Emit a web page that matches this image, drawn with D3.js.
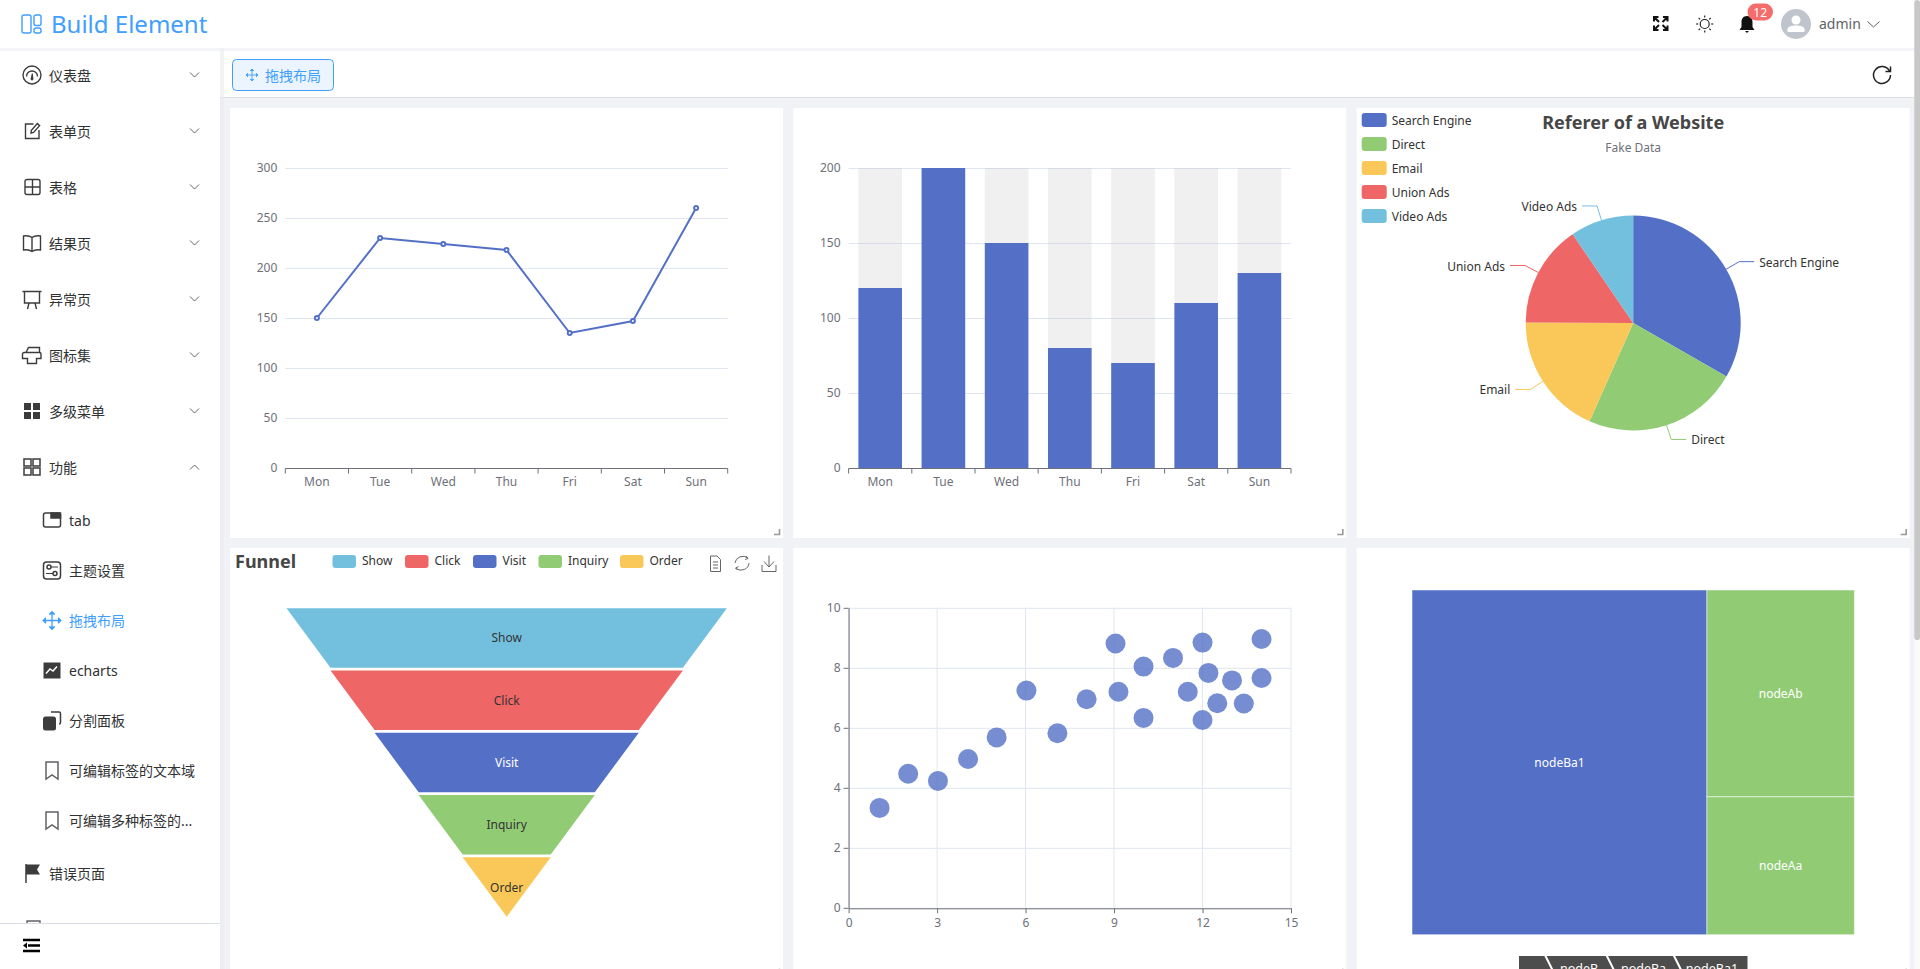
<!DOCTYPE html>
<html>
<head>
<meta charset="utf-8">
<title>Build Element</title>
<script src="https://cdn.jsdelivr.net/npm/d3@7"></script>
<style>
  html, body { margin: 0; height: 100%; overflow: hidden; background: #f0f2f5; }
  svg { display: block; }
  text { font-family: "Noto Sans", "Noto Sans CJK SC", sans-serif; }
</style>
</head>
<body>
<div id="app"></div>
<script>
// chart data
const days = ["Mon", "Tue", "Wed", "Thu", "Fri", "Sat", "Sun"];
const lineValues = [150, 230, 224, 218, 135, 147, 260];
const lineTicks = [0, 50, 100, 150, 200, 250, 300];
const barValues = [120, 200, 150, 80, 70, 110, 130];
const barTicks = [0, 50, 100, 150, 200];
const pieNames = ["Search Engine", "Direct", "Email", "Union Ads", "Video Ads"];
const pieValues = [1048, 735, 580, 484, 300];
const funnelNames = ["Show", "Click", "Visit", "Inquiry", "Order"];
const funnelValues = [100, 80, 60, 40, 20];
const scatterX = [10, 8.07, 13, 9.05, 11, 14, 13.4, 10, 14, 12.5, 9.15, 11.5, 3.03, 12.2, 2.02, 1.05, 4.05, 6.03, 12, 12, 7.08, 5.02];
const scatterY = [8.04, 6.95, 7.58, 8.81, 8.33, 7.66, 6.81, 6.33, 8.96, 6.82, 7.2, 7.2, 4.23, 7.83, 4.47, 3.33, 4.96, 7.24, 6.26, 8.84, 5.82, 5.68];
const scatterTicksX = [0, 3, 6, 9, 12, 15];
const scatterTicksY = [0, 2, 4, 6, 8, 10];
const treeNodeA = ["nodeAa", "nodeAb"];
const treeNodeAValues = [4, 6];
const treeNodeBa1Value = 20;
const breadcrumbNames = ["nodeB", "nodeBa", "nodeBa1"];

// page text
const menuTop = ["仪表盘", "表单页", "表格", "结果页", "异常页", "图标集", "多级菜单", "功能"];
const menuSub = ["tab", "主题设置", "拖拽布局", "echarts", "分割面板", "可编辑标签的文本域", "可编辑多种标签的..."];

const colors = { blue: "#5470c6", green: "#91cc75", yellow: "#fac858", red: "#ee6666", cyan: "#73c0de" };
const pieColors = [colors.blue, colors.green, colors.yellow, colors.red, colors.cyan];
const funnelColors = [colors.cyan, colors.red, colors.blue, colors.green, colors.yellow];
const axisColor = "#6e7079";
const splitColor = "#e0e6f1";
const primary = "#409eff";
const dark = "#303133";

const svg = d3.select("#app").append("svg").attr("width", 1920).attr("height", 969);

// small text helper, everything is centred on y
function label(g, x, y, str, size, fill, anchor, weight) {
    return g.append("text")
        .attr("x", x).attr("y", y)
        .attr("dominant-baseline", "central")
        .attr("text-anchor", anchor || "start")
        .attr("font-size", size)
        .attr("font-weight", weight || 400)
        .attr("fill", fill)
        .text(str);
}

// cards
const cardW = 553, cardH = 430;
const cardX = [230, 793.3, 1356.7];
const cardY = [108, 547.8];
cardY.forEach(y => cardX.forEach(x => {
    svg.append("rect").attr("x", x).attr("y", y).attr("width", cardW).attr("height", cardH).attr("fill", "#fff");
    svg.append("path")
        .attr("d", `M${x + cardW - 9} ${y + cardH - 3.5}H${x + cardW - 3.5}V${y + cardH - 9}`)
        .attr("fill", "none").attr("stroke", "#999").attr("stroke-width", 1.6);
}));

function gridOf(i, j) {
    const x = cardX[i], y = cardY[j];
    return { left: x + 55.3, right: x + cardW - 55.3, top: y + 60, bottom: y + 360 };
}

function styleAxis(g) {
    g.selectAll("text").attr("fill", axisColor).attr("font-size", 12);
    g.selectAll("line").attr("stroke", axisColor);
    g.select(".domain").attr("stroke", axisColor);
}

function yGrid(g, y, ticks, left, right) {
    g.selectAll(null).data(ticks).enter().append("line")
        .attr("x1", left).attr("x2", right)
        .attr("y1", d => y(d) + 0.5).attr("y2", d => y(d) + 0.5)
        .attr("stroke", splitColor);
    const axis = g.append("g").attr("transform", `translate(${left},0)`)
        .call(d3.axisLeft(y).tickValues(ticks).tickSize(0).tickPadding(8));
    axis.select(".domain").remove();
    styleAxis(axis);
}

function categoryAxis(g, x, grid) {
    const axis = g.append("g").attr("transform", `translate(0,${grid.bottom + 0.5})`)
        .call(d3.axisBottom(x).tickSize(0).tickPadding(9));
    axis.select(".domain").remove();
    axis.append("line").attr("x1", grid.left).attr("x2", grid.right);
    axis.selectAll(null).data(d3.range(days.length + 1)).enter().append("line")
        .attr("x1", i => grid.left + i * x.step()).attr("x2", i => grid.left + i * x.step())
        .attr("y1", 0).attr("y2", 5);
    styleAxis(axis);
}

// line chart
{
    const grid = gridOf(0, 0);
    const g = svg.append("g");
    const x = d3.scaleBand().domain(days).range([grid.left, grid.right]);
    const y = d3.scaleLinear().domain([0, 300]).range([grid.bottom, grid.top]);
    yGrid(g, y, lineTicks, grid.left, grid.right);
    categoryAxis(g, x, grid);
    const cx = (d, i) => x(days[i]) + x.bandwidth() / 2;
    g.append("path").datum(lineValues)
        .attr("d", d3.line().x(cx).y(d => y(d)))
        .attr("fill", "none").attr("stroke", colors.blue).attr("stroke-width", 2);
    g.selectAll("circle").data(lineValues).enter().append("circle")
        .attr("cx", cx).attr("cy", d => y(d)).attr("r", 2)
        .attr("fill", "#fff").attr("stroke", colors.blue).attr("stroke-width", 2);
}

// bar chart with background bars
{
    const grid = gridOf(1, 0);
    const g = svg.append("g");
    const x = d3.scaleBand().domain(days).range([grid.left, grid.right]).paddingInner(0.31).paddingOuter(0.155);
    const y = d3.scaleLinear().domain([0, 200]).range([grid.bottom, grid.top]);
    yGrid(g, y, barTicks, grid.left, grid.right);
    g.selectAll(".bg").data(days).enter().append("rect").attr("class", "bg")
        .attr("x", d => x(d)).attr("width", x.bandwidth())
        .attr("y", grid.top).attr("height", grid.bottom - grid.top)
        .attr("fill", "rgba(180,180,180,0.2)");
    g.selectAll(".bar").data(barValues).enter().append("rect").attr("class", "bar")
        .attr("x", (d, i) => x(days[i])).attr("width", x.bandwidth())
        .attr("y", d => y(d)).attr("height", d => y(0) - y(d))
        .attr("fill", colors.blue);
    const xAxisScale = d3.scaleBand().domain(days).range([grid.left, grid.right]);
    categoryAxis(g, xAxisScale, grid);
}

// pie chart
{
    const g = svg.append("g");
    const cx = cardX[2] + cardW / 2, cy = cardY[0] + cardH / 2, r = 107.5;
    label(g, cx, 121.5, "Referer of a Website", 18, "#464646", "middle", 700);
    label(g, cx, 147.5, "Fake Data", 12, axisColor, "middle");
    pieNames.forEach((name, i) => {
        g.append("rect").attr("x", 1361.7).attr("y", 113 + i * 24).attr("width", 25).attr("height", 14).attr("rx", 3).attr("fill", pieColors[i]);
        label(g, 1391.7, 120 + i * 24, name, 12, "#333");
    });
    const arcs = d3.pie().sort(null)(pieValues);
    const arc = d3.arc().innerRadius(0).outerRadius(r);
    const pg = g.append("g").attr("transform", `translate(${cx},${cy})`);
    pg.selectAll("path").data(arcs).enter().append("path").attr("d", arc).attr("fill", (d, i) => pieColors[i]);
    arcs.forEach((d, i) => {
        const mid = (d.startAngle + d.endAngle) / 2;
        const side = Math.sin(mid) > 0 ? 1 : -1;
        const p0 = [Math.sin(mid) * r, -Math.cos(mid) * r];
        const p1 = [Math.sin(mid) * (r + 15), -Math.cos(mid) * (r + 15)];
        const p2 = [p1[0] + side * 15, p1[1]];
        pg.append("path").attr("d", d3.line()([p0, p1, p2])).attr("fill", "none").attr("stroke", pieColors[i]);
        label(pg, p2[0] + side * 5, p2[1] + 0.5, pieNames[i], 12, "#333", side > 0 ? "start" : "end");
    });
}

// funnel chart
{
    const g = svg.append("g");
    label(g, 235, 561, "Funnel", 18, "#464646", "start", 700);
    const legendX = [332.5, 405, 473, 538.5, 620];
    funnelNames.forEach((name, i) => {
        g.append("rect").attr("x", legendX[i]).attr("y", 555).attr("width", 23.5).attr("height", 13).attr("rx", 3).attr("fill", funnelColors[i]);
        label(g, legendX[i] + 29.5, 560.7, name, 12, "#333");
    });
    // toolbox
    const tool = g.append("g").attr("fill", "none").attr("stroke", "#666").attr("stroke-width", 1);
    tool.append("path").attr("d", "M710.5 556H717L720.5 559.5V571.5H710.5ZM713 562H718M713 565H718M713 568H718");
    tool.append("path").attr("d", "M735 563a8 7.5 0 0 1 13 -5M749 563a8 7.5 0 0 1 -13 5.5M746 556l2 2.5 -3 1M737.5 570l-2 -2 3 -1.5");
    tool.append("path").attr("d", "M762 565V571.5H776V565M769 555.5V567M764 561.5L769 567L774 561.5");

    const cx = 506.7;
    const width = d3.scaleLinear().domain([0, 100]).range([0, 440.4]);
    const y = d3.scaleBand().domain(funnelNames).range([608.3, 916.7]).paddingInner(0.046);
    funnelNames.forEach((name, i) => {
        const top = width(funnelValues[i]) / 2;
        const bot = i < funnelValues.length - 1 ? width(funnelValues[i + 1]) / 2 : 0;
        const y0 = y(name), y1 = y0 + y.bandwidth();
        g.append("path")
            .attr("d", d3.line()([[cx - top, y0], [cx + top, y0], [cx + bot, y1], [cx - bot, y1]]) + "Z")
            .attr("fill", funnelColors[i]);
        label(g, cx, y0 + y.bandwidth() / 2, name, 12, name === "Visit" ? "#fff" : "#333", "middle");
    });
}

// scatter chart
{
    const grid = gridOf(1, 1);
    const g = svg.append("g");
    const x = d3.scaleLinear().domain([0, 15]).range([grid.left, grid.right]);
    const y = d3.scaleLinear().domain([0, 10]).range([grid.bottom, grid.top]);
    g.selectAll(".vline").data(scatterTicksX).enter().append("line").attr("class", "vline")
        .attr("x1", d => x(d)).attr("x2", d => x(d)).attr("y1", grid.top).attr("y2", grid.bottom)
        .attr("stroke", splitColor);
    g.selectAll(".hline").data(scatterTicksY).enter().append("line").attr("class", "hline")
        .attr("x1", grid.left).attr("x2", grid.right).attr("y1", d => y(d) + 0.5).attr("y2", d => y(d) + 0.5)
        .attr("stroke", splitColor);
    const ax = g.append("g").attr("transform", `translate(0,${grid.bottom + 0.5})`)
        .call(d3.axisBottom(x).tickValues(scatterTicksX).tickSize(5).tickSizeOuter(0).tickPadding(5));
    styleAxis(ax);
    const ay = g.append("g").attr("transform", `translate(${grid.left},0)`)
        .call(d3.axisLeft(y).tickValues(scatterTicksY).tickSize(5).tickSizeOuter(0).tickPadding(3));
    styleAxis(ay);
    g.selectAll("circle").data(scatterX).enter().append("circle")
        .attr("cx", d => x(d)).attr("cy", (d, i) => y(scatterY[i])).attr("r", 10)
        .attr("fill", colors.blue).attr("fill-opacity", 0.8);
}

// treemap
{
    const g = svg.append("g");
    const root = d3.hierarchy({
        name: "root",
        children: [
            { name: "nodeA", children: treeNodeA.map((name, i) => ({ name, value: treeNodeAValues[i] })) },
            { name: "nodeB", children: [{ name: "nodeBa", children: [{ name: "nodeBa1", value: treeNodeBa1Value }] }] }
        ]
    }).sum(d => d.value).sort((a, b) => b.value - a.value);
    const x0 = cardX[2] + 55.3, x1 = cardX[2] + cardW - 55.3;
    d3.treemap().tile(d3.treemapSliceDice).size([x1 - x0, 344.7])(root);
    const tg = g.append("g").attr("transform", `translate(${x0},590)`);
    const node = tg.selectAll("g").data(root.leaves()).enter().append("g");
    node.append("rect")
        .attr("x", d => d.x0).attr("y", d => d.y0)
        .attr("width", d => d.x1 - d.x0).attr("height", d => d.y1 - d.y0)
        .attr("fill", d => d.ancestors().some(a => a.data.name === "nodeA") ? colors.green : colors.blue)
        .attr("stroke", "#fff").attr("stroke-opacity", 0.5);
    node.each(function (d) {
        label(d3.select(this), (d.x0 + d.x1) / 2, (d.y0 + d.y1) / 2, d.data.name, 12, "#fff", "middle");
    });
    // breadcrumb
    const bx = [1519, 1545, 1606.4, 1673.6, 1747.5];
    g.append("rect").attr("x", bx[0]).attr("y", 956).attr("width", bx[4] - bx[0]).attr("height", 26).attr("fill", "#4d4d4d");
    bx.slice(1, 4).forEach(x => {
        g.append("path").attr("d", `M${x} 955L${x + 7} 969L${x} 983`).attr("fill", "none").attr("stroke", "#fff").attr("stroke-width", 2);
    });
    const textX = [1579, 1643.5, 1712];
    breadcrumbNames.forEach((name, i) => label(g, textX[i], 968.5, name, 12.5, "#fff", "middle"));
}

// top bars
const subBar = svg.append("g");
subBar.append("rect").attr("x", 220).attr("y", 48).attr("width", 1700).attr("height", 49).attr("fill", "#fff");
subBar.append("rect").attr("x", 220).attr("y", 97).attr("width", 1700).attr("height", 1).attr("fill", "#dcdfe6");
subBar.append("rect").attr("x", 232.5).attr("y", 59.5).attr("width", 101).attr("height", 31).attr("rx", 4)
    .attr("fill", "#ecf5ff").attr("stroke", primary);
moveIcon(subBar, 252, 75, 0.75, primary);
label(subBar, 265, 75, "拖拽布局", 14, primary);
subBar.append("path").attr("d", "M1889.5 71a8.5 8.5 0 1 0 1 4M1890.5 66.5V71.5H1885.5").attr("fill", "none").attr("stroke", "#222").attr("stroke-width", 1.5);

// sidebar
const side = svg.append("g");
side.append("rect").attr("x", 220).attr("y", 48).attr("width", 4).attr("height", 921).attr("fill", "#e9ebef").attr("opacity", 0.6);
side.append("rect").attr("x", 0).attr("y", 48).attr("width", 220).attr("height", 921).attr("fill", "#fff");

const topIcons = [
    "M19 10a9 9 0 1 1 -18 0a9 9 0 1 1 18 0ZM4.5 11.5a5.5 5.5 0 0 1 11 0",
    "M17 9V17.5H3.5V3H11.5M9 12L9.4 9.4L15.3 2.6L17.6 4.6L11.6 11.4Z",
    "M5 2.5H16a2 2 0 0 1 2 2V15.5a2 2 0 0 1 -2 2H5a2 2 0 0 1 -2 -2V4.5a2 2 0 0 1 2 -2ZM3 10H18M10.5 2.5V17.5",
    "M1.5 3C5 2.5 8 3 10 4.5C12 3 15 2.5 18.5 3V17C15 16.5 12 17 10 18.5C8 17 5 16.5 1.5 17ZM10 4.5V18.5",
    "M0.5 2.5H19.5M2.5 2.5V14H17.5V2.5M7 14L5.5 20M13 14L14.5 20",
    "M4 7.5L6.5 2.5H17.5V7.5M4 7.5H2a1.5 1.5 0 0 0 -1.5 1.5V13.5H5.5V18.5H14.5V13.5H19V9a1.5 1.5 0 0 0 -1.5 -1.5Z"
];
menuTop.forEach((name, i) => {
    const y = 75 + i * 56;
    label(side, 49, y, name, 14, dark);
    side.append("path").attr("d", i === 7
        ? `M190 ${y + 2.5}L194.5 ${y - 2}L199 ${y + 2.5}`
        : `M190 ${y - 2.5}L194.5 ${y + 2}L199 ${y - 2.5}`)
        .attr("fill", "none").attr("stroke", "#606266");
    const ig = side.append("g").attr("transform", `translate(22,${y - 10})`);
    if (i < 6) {
        ig.append("path").attr("d", topIcons[i]).attr("fill", "none").attr("stroke", "#3c3c3c").attr("stroke-width", 1.4);
        if (i === 0) {
            // gauge needle
            ig.append("path").attr("d", "M10.8 8.5L11.4 14a1.4 1.4 0 1 1 -2.8 0L9.8 8.5Z").attr("fill", "#3c3c3c");
        }
    } else {
        [[2, 2], [11, 2], [2, 11], [11, 11]].forEach(p => {
            ig.append("rect").attr("x", p[0]).attr("y", p[1]).attr("width", 7).attr("height", 7)
                .attr("fill", i === 6 ? "#3c3c3c" : "none").attr("stroke", "#3c3c3c").attr("stroke-width", i === 6 ? 0 : 1.5);
        });
    }
});

const subY = [520.5, 570.5, 620.5, 670.5, 720.5, 770.5, 820.5];
menuSub.forEach((name, i) => {
    label(side, 69, subY[i], name, 14, i === 2 ? primary : dark);
});
// submenu icons
function subIcon(i) {
    return side.append("g").attr("transform", `translate(42,${subY[i] - 10})`)
        .attr("fill", "none").attr("stroke", "#3c3c3c").attr("stroke-width", 1.5);
}
{
    const a = subIcon(0);
    a.append("rect").attr("x", 1.5).attr("y", 2.5).attr("width", 17).attr("height", 14).attr("rx", 2);
    a.append("path").attr("d", "M9 2.5H18.5V7.5H9Z").attr("fill", "#3c3c3c");
    const b = subIcon(1);
    b.append("rect").attr("x", 1.5).attr("y", 1.5).attr("width", 17).attr("height", 17).attr("rx", 3);
    b.append("circle").attr("cx", 7).attr("cy", 6.5).attr("r", 2);
    b.append("circle").attr("cx", 13).attr("cy", 13).attr("r", 2);
    b.append("path").attr("d", "M9 6.5H16M4 13H11").attr("stroke-width", 1.2);
    moveIcon(side, 52, subY[2], 1.1, primary);
    const c = subIcon(3);
    c.append("rect").attr("x", 1.5).attr("y", 2).attr("width", 17).attr("height", 16).attr("fill", "#3c3c3c").attr("stroke", "none");
    c.append("path").attr("d", "M4 13L8 8.5L11 10.5L15 6").attr("stroke", "#fff");
    const e = subIcon(4);
    e.append("rect").attr("x", 1).attr("y", 6).attr("width", 13).attr("height", 14).attr("rx", 2.5).attr("fill", "#3c3c3c").attr("stroke", "none");
    e.append("path").attr("d", "M9 1.5H17a1.5 1.5 0 0 1 1.5 1.5V12a1.5 1.5 0 0 1 -1.5 1.5");
    [5, 6].forEach(i => subIcon(i).append("path").attr("d", "M4 1.5H16V18.5L10 14.5L4 18.5Z").attr("stroke", "#606266"));
}
label(side, 49, 873, "错误页面", 14, dark);
side.append("path").attr("d", "M26 864V883").attr("stroke", "#3c3c3c").attr("stroke-width", 1.5);
side.append("path").attr("d", "M26 864.5H40L37 869.5L40 874.5H26Z").attr("fill", "#3c3c3c");
side.append("path").attr("d", "M27 923V921H40V923").attr("fill", "none").attr("stroke", "#606266").attr("stroke-width", 1.4);

// collapse bar
side.append("rect").attr("x", 0).attr("y", 923).attr("width", 220).attr("height", 46).attr("fill", "#fff");
side.append("rect").attr("x", 0).attr("y", 923).attr("width", 220).attr("height", 1).attr("fill", "#dcdfe6");
side.append("path").attr("d", "M23 940H40M28 945.5H40M23 951H40").attr("stroke", "#000").attr("stroke-width", 2.4);
side.append("path").attr("d", "M23 945.5L27 942.5V948.5Z").attr("fill", "#000");

// header
const head = svg.append("g");
head.append("rect").attr("x", 0).attr("y", 48).attr("width", 1920).attr("height", 3).attr("fill", "#eef0f3").attr("opacity", 0.7);
head.append("rect").attr("x", 0).attr("y", 0).attr("width", 1920).attr("height", 48).attr("fill", "#fff");
const logo = head.append("g").attr("fill", "none").attr("stroke", primary).attr("stroke-width", 1.4);
logo.append("rect").attr("x", 22).attr("y", 15).attr("width", 9).attr("height", 18).attr("rx", 2);
logo.append("rect").attr("x", 34).attr("y", 15).attr("width", 7).attr("height", 10.5).attr("rx", 2);
logo.append("rect").attr("x", 34).attr("y", 28).attr("width", 7).attr("height", 5).attr("rx", 2);
label(head, 51, 23, "Build Element", 24, primary);

const full = head.append("g").attr("fill", "none").attr("stroke", "#111").attr("stroke-width", 2);
full.append("path").attr("d", "M1654 21.5V17H1658.5M1654.5 17.5L1659 22M1667.5 21.5V17H1663M1667 17.5L1662.5 22M1654 25.5V30H1658.5M1654.5 29.5L1659 25M1667.5 25.5V30H1663M1667 29.5L1662.5 25");
const sun = head.append("g").attr("transform", "translate(1704.7,24)").attr("fill", "none").attr("stroke", "#222").attr("stroke-width", 1.2);
sun.append("circle").attr("r", 4.5);
d3.range(8).forEach(i => {
    const a = i * Math.PI / 4;
    sun.append("line").attr("x1", Math.cos(a) * 6.5).attr("y1", Math.sin(a) * 6.5).attr("x2", Math.cos(a) * 8.5).attr("y2", Math.sin(a) * 8.5);
});
head.append("path").attr("d", "M1747 16C1743 16 1741.5 19 1741.5 22V27L1739.5 30H1754.5L1752.5 27V22C1752.5 19 1751 16 1747 16ZM1745 31H1749L1747 33Z").attr("fill", "#111");
head.append("rect").attr("x", 1747.5).attr("y", 3.5).attr("width", 25.5).attr("height", 17).attr("rx", 8.5).attr("fill", "#f56c6c");
label(head, 1760.2, 12, "12", 12, "#fff", "middle");
head.append("circle").attr("cx", 1796).attr("cy", 24).attr("r", 15).attr("fill", "#c0c4cc");
head.append("circle").attr("cx", 1796).attr("cy", 20).attr("r", 4.5).attr("fill", "#fff");
head.append("path").attr("d", "M1787.5 32V29.5C1787.5 26.5 1791 25.5 1796 25.5C1801 25.5 1804.5 26.5 1804.5 29.5V32Z").attr("fill", "#fff");
label(head, 1819, 23.5, "admin", 14, "#606266");
head.append("path").attr("d", "M1867.5 21.5L1873.5 27L1879.5 21.5").attr("fill", "none").attr("stroke", "#606266");

// scrollbar
svg.append("rect").attr("x", 1914.3).attr("y", 0).attr("width", 5.7).attr("height", 969).attr("fill", "#fafafa");
svg.append("rect").attr("x", 1914.3).attr("y", 0).attr("width", 5.7).attr("height", 640).attr("rx", 2.8).attr("fill", "#c8c8c8");

function moveIcon(g, cx, cy, s, color) {
    g.append("path").attr("transform", `translate(${cx},${cy}) scale(${s})`)
        .attr("d", "M0 -7.5V7.5M-7.5 0H7.5M-2.5 -5.5L0 -8L2.5 -5.5M-2.5 5.5L0 8L2.5 5.5M-5.5 -2.5L-8 0L-5.5 2.5M5.5 -2.5L8 0L5.5 2.5")
        .attr("fill", color).attr("stroke", color).attr("stroke-width", 1.2);
}
</script>
</body>
</html>
